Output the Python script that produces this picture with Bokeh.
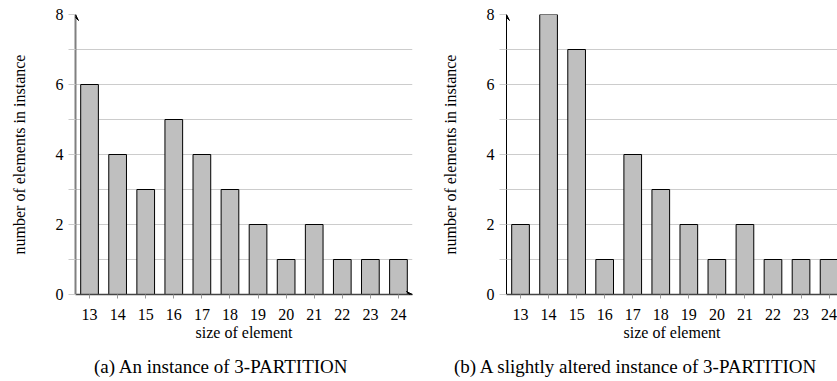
from bokeh.plotting import figure
from bokeh.models import (FixedTicker, Range1d, Arrow, VeeHead, Div)
from bokeh.layouts import row, column
from bokeh.embed import file_html
from bokeh.resources import INLINE

sizes = [13, 14, 15, 16, 17, 18, 19, 20, 21, 22, 23, 24]
counts_a = [6, 4, 3, 5, 4, 3, 2, 1, 2, 1, 1, 1]
counts_b = [2, 8, 7, 1, 4, 3, 2, 1, 2, 1, 1, 1]
y_major = [0, 2, 4, 6, 8]
y_minor = [1, 3, 5, 7]
x_label = "size of element"
y_label = "number of elements in instance"
caption_a = "(a) An instance of 3-PARTITION"
caption_b = "(b) A slightly altered instance of 3-PARTITION"

FONT = "Liberation Serif"
FIG_H = 345


def make(counts, width, border_left, x_end, yaxis_color, yaxis_width, show_x_arrow):
    p = figure(width=width, height=FIG_H, output_backend="svg", toolbar_location=None,
               x_range=Range1d(12.5, x_end), y_range=Range1d(0, 8),
               min_border_left=border_left, min_border_right=width - border_left - int(round((x_end - 12.5) * 28.1)),
               min_border_top=14, min_border_bottom=FIG_H - 294)
    p.outline_line_color = None
    p.background_fill_color = "white"
    p.border_fill_color = "white"

    p.vbar(x=sizes, top=counts, bottom=0, width=0.63, fill_color="#bfbfbf",
           line_color="black", line_width=1)

    # grid
    p.xgrid.grid_line_color = None
    p.ygrid.ticker = FixedTicker(ticks=y_major, minor_ticks=y_minor)
    p.ygrid.grid_line_color = "#cccccc"
    p.ygrid.grid_line_width = 1
    p.ygrid.minor_grid_line_color = "#cccccc"
    p.ygrid.minor_grid_line_width = 1

    # y axis
    ya = p.yaxis[0]
    ya.ticker = FixedTicker(ticks=y_major, minor_ticks=y_minor)
    ya.axis_line_color = yaxis_color
    ya.axis_line_width = yaxis_width
    ya.major_tick_line_color = "#cccccc"
    ya.minor_tick_line_color = "#cccccc"
    ya.major_tick_out = 7
    ya.major_tick_in = 0
    ya.minor_tick_out = 7
    ya.minor_tick_in = 0
    ya.major_label_standoff = 5
    ya.major_label_text_font = FONT
    ya.major_label_text_font_size = "16px"
    ya.major_label_text_color = "black"
    ya.axis_label = y_label
    ya.axis_label_text_font = FONT
    ya.axis_label_text_font_style = "normal"
    ya.axis_label_text_font_size = "16px"
    ya.axis_label_text_color = "black"
    ya.axis_label_standoff = 25

    # x axis
    xa = p.xaxis[0]
    xa.ticker = FixedTicker(ticks=sizes, minor_ticks=[])
    xa.axis_line_color = "#444444"
    xa.axis_line_width = 1.5
    xa.major_tick_line_color = "#999999"
    xa.major_tick_out = 4
    xa.major_tick_in = 0
    xa.minor_tick_line_color = None
    xa.major_label_standoff = 10
    xa.major_label_text_font = FONT
    xa.major_label_text_font_size = "16px"
    xa.major_label_text_color = "black"
    xa.axis_label = x_label
    xa.axis_label_text_font = FONT
    xa.axis_label_text_font_style = "normal"
    xa.axis_label_text_font_size = "16px"
    xa.axis_label_text_color = "black"
    xa.axis_label_standoff = 1

    # arrows at axis ends
    p.add_layout(Arrow(end=VeeHead(size=6, line_color="black", line_width=1, fill_color="black"),
                       x_start=12.5, y_start=7.7, x_end=12.5, y_end=8.0,
                       line_color=yaxis_color, line_width=0.5, line_alpha=0))
    if show_x_arrow:
        p.add_layout(Arrow(end=VeeHead(size=6, line_color="black", line_width=1, fill_color="black"),
                           x_start=24.2, y_start=0, x_end=x_end, y_end=0,
                           line_alpha=0))
    return p


def caption_div(text, width, pad_left):
    return Div(text=text, width=width, height=381 - FIG_H, margin=(0, 0, 0, 0),
               styles={"font-family": "'Liberation Serif', serif", "font-size": "19px",
                       "color": "black", "white-space": "nowrap", "line-height": "22px",
                       "padding-top": "11px", "padding-left": f"{pad_left}px",
                       "box-sizing": "border-box", "overflow": "hidden"})


p1 = make(counts_a, 420, 75, 24.5, "#808080", 2, True)
p2 = make(counts_b, 417, 86, 24.3, "black", 1, False)
d1 = caption_div(caption_a, 420, 94)
d2 = caption_div(caption_b, 417, 34)

layout = column(row(p1, p2), row(d1, d2))
open("out.html", "w").write(file_html(layout, INLINE))
